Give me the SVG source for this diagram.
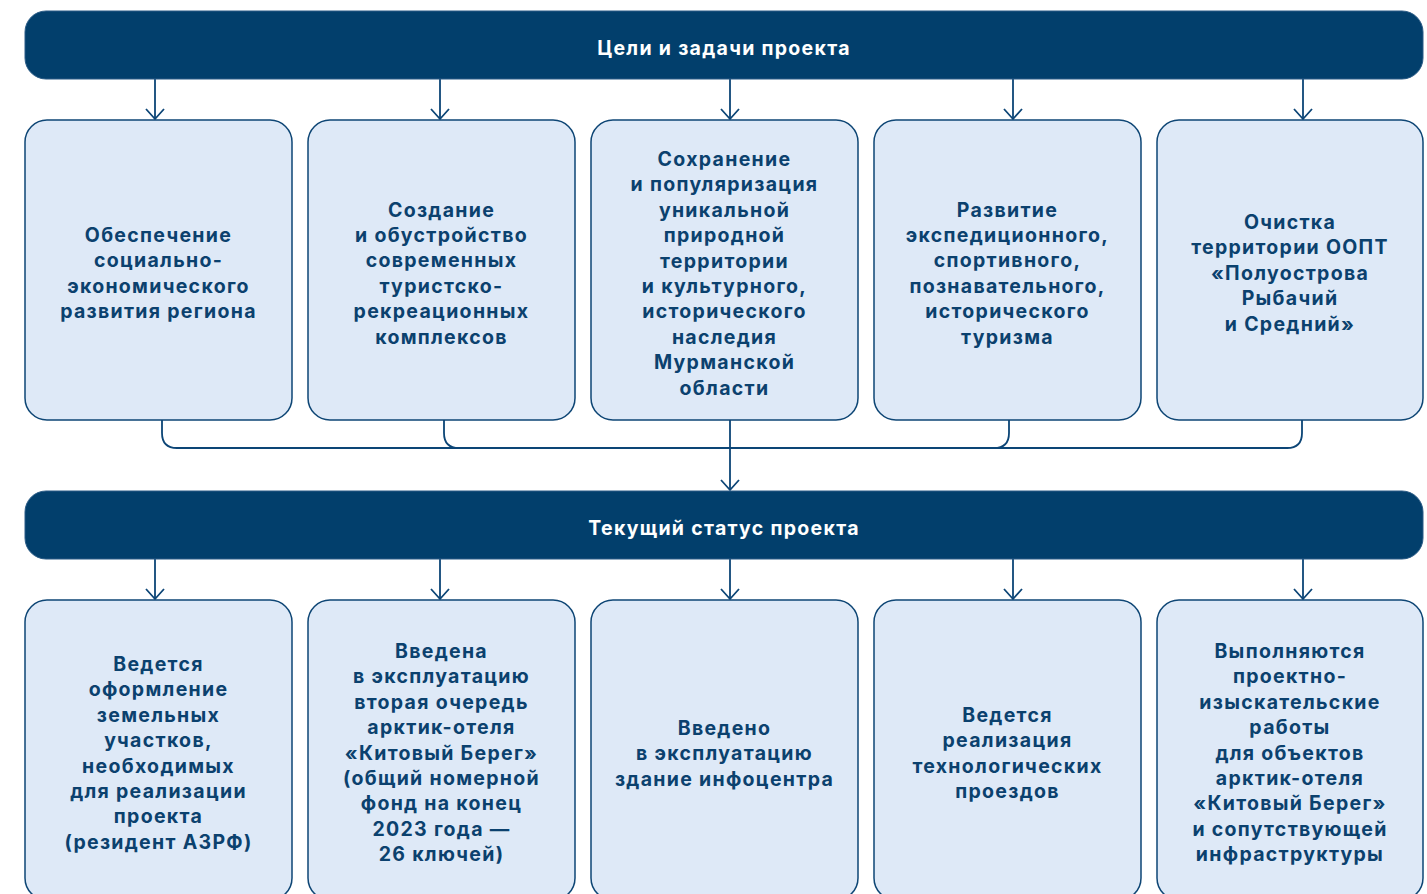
<svg xmlns="http://www.w3.org/2000/svg" width="1427" height="894" viewBox="0 0 1427 894">
<defs>
<style>
.banner{fill:#023F6C;stroke:#2A5B86;stroke-width:1}
.btxt{fill:#FFFFFF;font-family:Inter,"Noto Sans",sans-serif;font-weight:700;font-size:19.5px;letter-spacing:1.3px;text-anchor:middle}
.box{fill:#DEE9F7;stroke:#0E4675;stroke-width:1.5}
.txt{fill:#0B416E;font-family:Inter,"Noto Sans",sans-serif;font-weight:700;font-size:19.5px;letter-spacing:1.3px;text-anchor:middle}
.ln{fill:none;stroke:#0C4576;stroke-width:1.8}
.ar{fill:none;stroke:#0C4576;stroke-width:1.8;marker-end:url(#arr)}
</style>
<marker id="arr" markerUnits="userSpaceOnUse" viewBox="-1 -1 13 21" markerWidth="13" markerHeight="21" refX="10" refY="9" orient="auto">
<path d="M0,0 L10,9 L0,18" fill="none" stroke="#0C4576" stroke-width="1.8"/>
</marker>
</defs>
<rect width="1427" height="894" fill="#FFFFFF"/>

<g id="connectors">
<path class="ar" d="M155,79 V119"/>
<path class="ar" d="M440,79 V119"/>
<path class="ar" d="M730,79 V119"/>
<path class="ar" d="M1013,79 V119"/>
<path class="ar" d="M1303,79 V119"/>
<path class="ln" d="M162,420 V433 Q162,448 177,448 H994 Q1009,448 1009,433 V420"/>
<path class="ln" d="M444,420 V433 Q444,448 459,448 H1287 Q1302,448 1302,433 V420"/>
<path class="ar" d="M730,420 V490"/>
<path class="ar" d="M155,559 V599"/>
<path class="ar" d="M440,559 V599"/>
<path class="ar" d="M730,559 V599"/>
<path class="ar" d="M1013,559 V599"/>
<path class="ar" d="M1303,559 V599"/>
</g>

<g id="banner-goals">
<rect class="banner" x="25" y="11" width="1398" height="68" rx="21"/>
<text class="btxt" x="724" y="55">Цели и задачи проекта</text>
</g>

<g id="goal-1">
<rect class="box" x="25" y="120" width="267" height="300" rx="22"/>
<text class="txt" x="158.5" y="242">Обеспечение<tspan x="158.5" dy="25.4">социально-</tspan><tspan x="158.5" dy="25.4">экономического</tspan><tspan x="158.5" dy="25.4">развития региона</tspan></text>
</g>
<g id="goal-2">
<rect class="box" x="308" y="120" width="267" height="300" rx="22"/>
<text class="txt" x="441.5" y="216.5">Создание<tspan x="441.5" dy="25.4">и обустройство</tspan><tspan x="441.5" dy="25.4">современных</tspan><tspan x="441.5" dy="25.4">туристско-</tspan><tspan x="441.5" dy="25.4">рекреационных</tspan><tspan x="441.5" dy="25.4">комплексов</tspan></text>
</g>
<g id="goal-3">
<rect class="box" x="591" y="120" width="267" height="300" rx="22"/>
<text class="txt" x="724.5" y="166">Сохранение<tspan x="724.5" dy="25.4">и популяризация</tspan><tspan x="724.5" dy="25.4">уникальной</tspan><tspan x="724.5" dy="25.4">природной</tspan><tspan x="724.5" dy="25.4">территории</tspan><tspan x="724.5" dy="25.4">и культурного,</tspan><tspan x="724.5" dy="25.4">исторического</tspan><tspan x="724.5" dy="25.4">наследия</tspan><tspan x="724.5" dy="25.4">Мурманской</tspan><tspan x="724.5" dy="25.4">области</tspan></text>
</g>
<g id="goal-4">
<rect class="box" x="874" y="120" width="267" height="300" rx="22"/>
<text class="txt" x="1007.5" y="216.5">Развитие<tspan x="1007.5" dy="25.4">экспедиционного,</tspan><tspan x="1007.5" dy="25.4">спортивного,</tspan><tspan x="1007.5" dy="25.4">познавательного,</tspan><tspan x="1007.5" dy="25.4">исторического</tspan><tspan x="1007.5" dy="25.4">туризма</tspan></text>
</g>
<g id="goal-5">
<rect class="box" x="1157" y="120" width="266" height="300" rx="22"/>
<text class="txt" x="1290" y="229">Очистка<tspan x="1290" dy="25.4">территории ООПТ</tspan><tspan x="1290" dy="25.4">«Полуострова</tspan><tspan x="1290" dy="25.4">Рыбачий</tspan><tspan x="1290" dy="25.4">и Средний»</tspan></text>
</g>

<g id="banner-status">
<rect class="banner" x="25" y="491" width="1398" height="68" rx="21"/>
<text class="btxt" x="724" y="535">Текущий статус проекта</text>
</g>

<g id="status-1">
<rect class="box" x="25" y="600" width="267" height="300" rx="22"/>
<text class="txt" x="158.5" y="671">Ведется<tspan x="158.5" dy="25.4">оформление</tspan><tspan x="158.5" dy="25.4">земельных</tspan><tspan x="158.5" dy="25.4">участков,</tspan><tspan x="158.5" dy="25.4">необходимых</tspan><tspan x="158.5" dy="25.4">для реализации</tspan><tspan x="158.5" dy="25.4">проекта</tspan><tspan x="158.5" dy="25.4">(резидент АЗРФ)</tspan></text>
</g>
<g id="status-2">
<rect class="box" x="308" y="600" width="267" height="300" rx="22"/>
<text class="txt" x="441.5" y="658">Введена<tspan x="441.5" dy="25.4">в эксплуатацию</tspan><tspan x="441.5" dy="25.4">вторая очередь</tspan><tspan x="441.5" dy="25.4">арктик-отеля</tspan><tspan x="441.5" dy="25.4">«Китовый Берег»</tspan><tspan x="441.5" dy="25.4">(общий номерной</tspan><tspan x="441.5" dy="25.4">фонд на конец</tspan><tspan x="441.5" dy="25.4">2023 года —</tspan><tspan x="441.5" dy="25.4">26 ключей)</tspan></text>
</g>
<g id="status-3">
<rect class="box" x="591" y="600" width="267" height="300" rx="22"/>
<text class="txt" x="724.5" y="735">Введено<tspan x="724.5" dy="25.4">в эксплуатацию</tspan><tspan x="724.5" dy="25.4">здание инфоцентра</tspan></text>
</g>
<g id="status-4">
<rect class="box" x="874" y="600" width="267" height="300" rx="22"/>
<text class="txt" x="1007.5" y="722">Ведется<tspan x="1007.5" dy="25.4">реализация</tspan><tspan x="1007.5" dy="25.4">технологических</tspan><tspan x="1007.5" dy="25.4">проездов</tspan></text>
</g>
<g id="status-5">
<rect class="box" x="1157" y="600" width="266" height="300" rx="22"/>
<text class="txt" x="1290" y="658">Выполняются<tspan x="1290" dy="25.4">проектно-</tspan><tspan x="1290" dy="25.4">изыскательские</tspan><tspan x="1290" dy="25.4">работы</tspan><tspan x="1290" dy="25.4">для объектов</tspan><tspan x="1290" dy="25.4">арктик-отеля</tspan><tspan x="1290" dy="25.4">«Китовый Берег»</tspan><tspan x="1290" dy="25.4">и сопутствующей</tspan><tspan x="1290" dy="25.4">инфраструктуры</tspan></text>
</g>
</svg>
